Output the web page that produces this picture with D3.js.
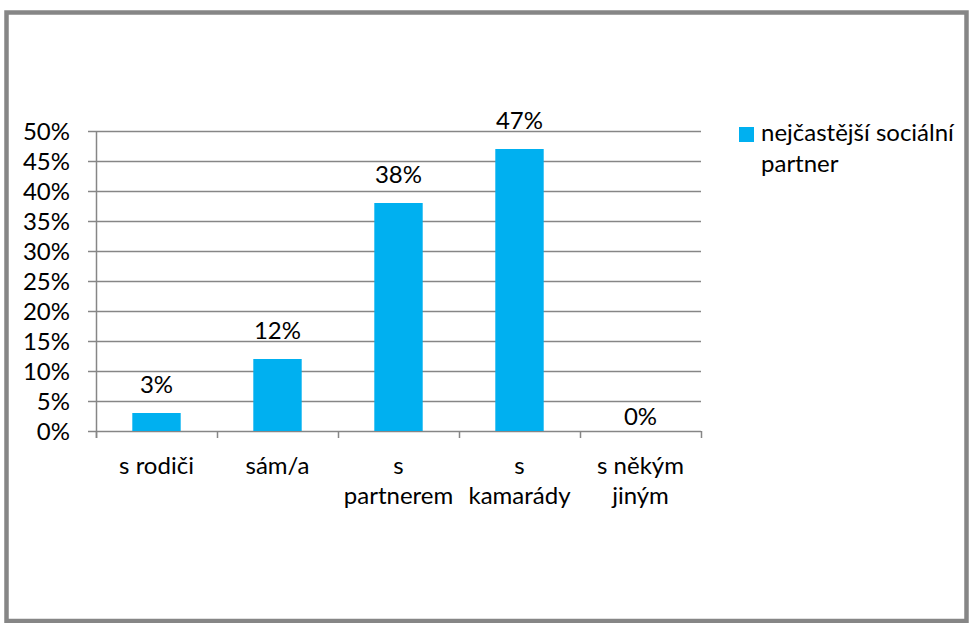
<!DOCTYPE html>
<html>
<head>
<meta charset="utf-8">
<script src="https://cdn.jsdelivr.net/npm/d3@7"></script>
<style>
  html, body { margin: 0; padding: 0; background: #fff; }
  svg { display: block; }
  text { font-family: Lato, "Open Sans", sans-serif; fill: #000; }
</style>
</head>
<body>
<svg id="chart" width="969" height="623"></svg>
<script>
const categories = ["s rodiči", "sám/a", "s partnerem", "s kamarády", "s někým jiným"];
const values = [0.03, 0.12, 0.38, 0.47, 0.00];
const seriesName = "nejčastější sociální partner";
const yTicks = [0, 0.05, 0.10, 0.15, 0.20, 0.25, 0.30, 0.35, 0.40, 0.45, 0.50];

const W = 969, H = 623;
const svg = d3.select("#chart");
const gray = "#868686";
const barColor = "#00B0F0";
const fontSize = 24;

// outer frame
svg.append("rect")
  .attr("x", 6.5).attr("y", 12.5).attr("width", 960).attr("height", 608.5)
  .attr("fill", "#fff").attr("stroke", gray).attr("stroke-width", 4.5);

const plot = { left: 96, right: 701, top: 131, bottom: 431 };

const y = d3.scaleLinear().domain([0, 0.5]).range([plot.bottom, plot.top]);
const x = d3.scaleBand().domain(categories).range([plot.left, plot.right])
  .paddingInner(0.6).paddingOuter(0.3);

// gridlines
svg.append("g").selectAll("line").data(yTicks).join("line")
  .attr("x1", plot.left).attr("x2", plot.right)
  .attr("y1", d => Math.round(y(d)) + 0.5).attr("y2", d => Math.round(y(d)) + 0.5)
  .attr("stroke", gray).attr("stroke-width", 1.5);

// y axis
const yAxis = d3.axisLeft(y).tickValues(yTicks).tickFormat(d3.format(".0%"))
  .tickSize(8).tickPadding(18);
const gy = svg.append("g").attr("transform", `translate(${plot.left},0)`).call(yAxis);
gy.select(".domain").attr("stroke", gray).attr("stroke-width", 1.5)
  .attr("d", `M0.5,${plot.top}V${plot.bottom + 7}`);
gy.selectAll(".tick line").attr("stroke", gray).attr("stroke-width", 1.5);
gy.selectAll(".tick text").attr("font-size", fontSize).attr("font-family", "Lato, sans-serif")
  .attr("fill", "#000").attr("dy", "0.36em");

// x axis ticks at category boundaries
const edges = d3.range(categories.length + 1).map(i => plot.left + i * (plot.right - plot.left) / categories.length);
svg.append("g").selectAll("line").data(edges).join("line")
  .attr("x1", d => Math.round(d) + 0.5).attr("x2", d => Math.round(d) + 0.5)
  .attr("y1", plot.bottom).attr("y2", plot.bottom + 7)
  .attr("stroke", gray).attr("stroke-width", 1.5);

// bars
svg.append("g").selectAll("rect").data(values).join("rect")
  .attr("x", (d, i) => x(categories[i]))
  .attr("width", x.bandwidth())
  .attr("y", d => y(d))
  .attr("height", d => y(0) - y(d))
  .attr("fill", barColor);

// value labels
svg.append("g").selectAll("text").data(values).join("text")
  .attr("x", (d, i) => x(categories[i]) + x.bandwidth() / 2)
  .attr("y", d => d === 0 ? y(d) - 6 : y(d) - 20)
  .attr("text-anchor", "middle").attr("font-size", fontSize)
  .text(d => d3.format(".0%")(d));

// category labels with wrapping
const measure = svg.append("text").attr("font-size", fontSize).attr("visibility", "hidden");
function wrap(label, maxW) {
  const words = label.split(" ");
  const lines = [];
  let cur = "";
  words.forEach(w => {
    const test = cur ? cur + " " + w : w;
    measure.text(test);
    if (cur && measure.node().getComputedTextLength() > maxW) { lines.push(cur); cur = w; }
    else cur = test;
  });
  if (cur) lines.push(cur);
  return lines;
}
const catG = svg.append("g");
categories.forEach((c, i) => {
  const lines = wrap(c, 112);
  const cx = x(c) + x.bandwidth() / 2;
  const t = catG.append("text")
    .attr("x", cx).attr("y", 474)
    .attr("text-anchor", "middle").attr("font-size", fontSize);
  lines.forEach((ln, j) => {
    t.append("tspan").attr("x", cx).attr("dy", j === 0 ? 0 : 30).text(ln);
  });
});
measure.remove();

// legend
const lg = svg.append("g");
lg.append("rect").attr("x", 739).attr("y", 127).attr("width", 15).attr("height", 15).attr("fill", barColor);
const legendText = lg.append("text").attr("x", 761).attr("y", 141).attr("font-size", fontSize);
legendText.append("tspan").attr("x", 761).text("nejčastější sociální");
legendText.append("tspan").attr("x", 761).attr("dy", 31).text("partner");
</script>
</body>
</html>
